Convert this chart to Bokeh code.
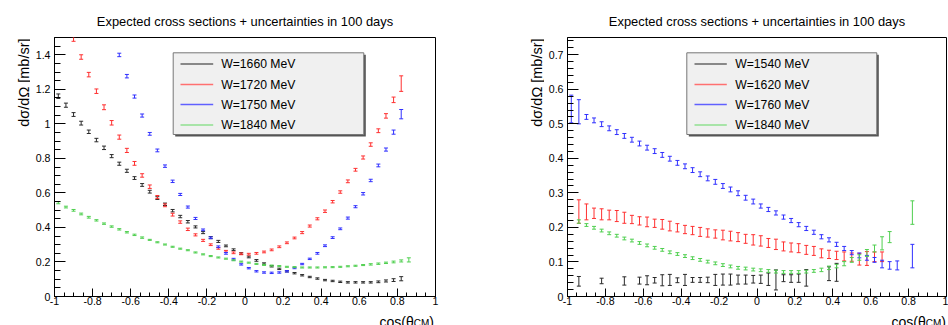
import numpy as np
from bokeh.plotting import figure
from bokeh.models import Label, FixedTicker, CustomJSTickFormatter, ColumnDataSource
from bokeh.layouts import row, column
from bokeh.embed import file_html
from bokeh.resources import INLINE

# ---------------- data ----------------
title_text = "Expected cross sections + uncertainties in 100 days"
y_title = "dσ/dΩ [mb/sr]"

x_tick_values = [-1, -0.8, -0.6, -0.4, -0.2, 0, 0.2, 0.4, 0.6, 0.8, 1]
x_tick_labels = ["-1", "-0.8", "-0.6", "-0.4", "-0.2", "0", "0.2", "0.4", "0.6", "0.8", "1"]
left_y_ticks = [0, 0.2, 0.4, 0.6, 0.8, 1.0, 1.2, 1.4]
left_y_labels = ["0", "0.2", "0.4", "0.6", "0.8", "1", "1.2", "1.4"]
right_y_ticks = [0, 0.1, 0.2, 0.3, 0.4, 0.5, 0.6, 0.7]
right_y_labels = ["0", "0.1", "0.2", "0.3", "0.4", "0.5", "0.6", "0.7"]

left_names = ["W=1660 MeV", "W=1720 MeV", "W=1750 MeV", "W=1840 MeV"]
right_names = ["W=1540 MeV", "W=1620 MeV", "W=1760 MeV", "W=1840 MeV"]

# left panel
L1660_x = [-0.98, -0.94, -0.90, -0.86, -0.82, -0.78, -0.74, -0.70, -0.66, -0.62, -0.58, -0.54,
           -0.50, -0.46, -0.42, -0.38, -0.34, -0.30, -0.26, -0.22, -0.18, -0.14, -0.10, -0.06,
           -0.02, 0.02, 0.06, 0.10, 0.14, 0.18, 0.22, 0.26, 0.30, 0.34, 0.38, 0.42, 0.46, 0.50,
           0.54, 0.58, 0.62, 0.66, 0.70, 0.74, 0.78, 0.82]
L1660_y = [1.160, 1.108, 1.054, 1.004, 0.954, 0.906, 0.861, 0.813, 0.769, 0.728, 0.686, 0.646,
           0.607, 0.570, 0.534, 0.497, 0.463, 0.433, 0.403, 0.370, 0.341, 0.319, 0.293, 0.271,
           0.249, 0.229, 0.209, 0.191, 0.175, 0.160, 0.146, 0.135, 0.123, 0.113, 0.104, 0.095,
           0.090, 0.085, 0.082, 0.082, 0.082, 0.082, 0.085, 0.090, 0.095, 0.103]
L1660_e = [0.013, 0.012, 0.011, 0.011, 0.010, 0.010, 0.010, 0.009, 0.009, 0.009, 0.008, 0.008,
           0.008, 0.008, 0.007, 0.007, 0.007, 0.007, 0.006, 0.006, 0.006, 0.006, 0.005, 0.005,
           0.005, 0.005, 0.005, 0.004, 0.004, 0.004, 0.004, 0.004, 0.004, 0.004, 0.004, 0.004,
           0.004, 0.004, 0.004, 0.004, 0.004, 0.004, 0.005, 0.006, 0.008, 0.012]

L1720_x = [-0.90, -0.86, -0.82, -0.78, -0.74, -0.70, -0.66, -0.62, -0.58, -0.54, -0.50, -0.46,
           -0.42, -0.38, -0.34, -0.30, -0.26, -0.22, -0.18, -0.14, -0.10, -0.06, -0.02, 0.02,
           0.06, 0.10, 0.14, 0.18, 0.22, 0.26, 0.30, 0.34, 0.38, 0.42, 0.46, 0.50, 0.54, 0.58,
           0.62, 0.66, 0.70, 0.74, 0.78, 0.82]
L1720_y = [1.491, 1.387, 1.285, 1.189, 1.096, 1.006, 0.923, 0.846, 0.771, 0.701, 0.636, 0.576,
           0.528, 0.474, 0.431, 0.389, 0.357, 0.325, 0.300, 0.279, 0.262, 0.253, 0.247, 0.245,
           0.250, 0.258, 0.270, 0.288, 0.311, 0.339, 0.370, 0.408, 0.450, 0.494, 0.549, 0.605,
           0.667, 0.734, 0.805, 0.880, 0.960, 1.046, 1.139, 1.233]
L1720_e = [0.013, 0.013, 0.013, 0.013, 0.014, 0.013, 0.012, 0.012, 0.011, 0.010, 0.010, 0.009,
           0.008, 0.008, 0.007, 0.007, 0.006, 0.006, 0.005, 0.005, 0.005, 0.005, 0.005, 0.005,
           0.005, 0.005, 0.005, 0.005, 0.005, 0.005, 0.006, 0.006, 0.006, 0.007, 0.007, 0.007,
           0.008, 0.008, 0.009, 0.010, 0.011, 0.013, 0.016, 0.045]

L1750_x = [-0.66, -0.62, -0.58, -0.54, -0.50, -0.46, -0.42, -0.38, -0.34, -0.30, -0.26, -0.22,
           -0.18, -0.14, -0.10, -0.06, -0.02, 0.02, 0.06, 0.10, 0.14, 0.18, 0.22, 0.26, 0.30,
           0.34, 0.38, 0.42, 0.46, 0.50, 0.54, 0.58, 0.62, 0.66, 0.70, 0.74, 0.78, 0.82]
L1750_y = [1.399, 1.276, 1.158, 1.048, 0.942, 0.846, 0.755, 0.667, 0.591, 0.518, 0.452, 0.386,
           0.340, 0.288, 0.250, 0.216, 0.186, 0.164, 0.146, 0.139, 0.137, 0.139, 0.146, 0.165,
           0.188, 0.218, 0.250, 0.294, 0.341, 0.392, 0.454, 0.520, 0.595, 0.672, 0.759, 0.851,
           0.952, 1.056]
L1750_e = [0.010, 0.010, 0.009, 0.009, 0.008, 0.008, 0.007, 0.007, 0.006, 0.006, 0.006, 0.005,
           0.005, 0.005, 0.005, 0.005, 0.004, 0.004, 0.004, 0.004, 0.004, 0.004, 0.004, 0.004,
           0.004, 0.004, 0.005, 0.005, 0.005, 0.005, 0.006, 0.006, 0.007, 0.007, 0.008, 0.009,
           0.012, 0.027]

L1840_x = [-0.98, -0.94, -0.90, -0.86, -0.82, -0.78, -0.74, -0.70, -0.66, -0.62, -0.58, -0.54,
           -0.50, -0.46, -0.42, -0.38, -0.34, -0.30, -0.26, -0.22, -0.18, -0.14, -0.10, -0.06,
           -0.02, 0.02, 0.06, 0.10, 0.14, 0.18, 0.22, 0.26, 0.30, 0.34, 0.38, 0.42, 0.46, 0.50,
           0.54, 0.58, 0.62, 0.66, 0.70, 0.74, 0.78, 0.82, 0.86]
L1840_y = [0.543, 0.518, 0.499, 0.478, 0.459, 0.441, 0.422, 0.405, 0.389, 0.372, 0.357, 0.341,
           0.328, 0.314, 0.301, 0.288, 0.277, 0.268, 0.255, 0.244, 0.234, 0.226, 0.219, 0.210,
           0.202, 0.196, 0.189, 0.183, 0.179, 0.176, 0.172, 0.170, 0.168, 0.168, 0.168, 0.169,
           0.170, 0.172, 0.175, 0.178, 0.182, 0.186, 0.190, 0.195, 0.200, 0.206, 0.212]
L1840_e = [0.006, 0.005, 0.005, 0.005, 0.005, 0.004, 0.004, 0.004, 0.004, 0.004, 0.004, 0.004,
           0.003, 0.003, 0.003, 0.003, 0.003, 0.003, 0.003, 0.003, 0.003, 0.003, 0.003, 0.003,
           0.003, 0.003, 0.003, 0.003, 0.003, 0.003, 0.003, 0.003, 0.003, 0.003, 0.003, 0.003,
           0.003, 0.003, 0.003, 0.003, 0.003, 0.004, 0.004, 0.004, 0.005, 0.006, 0.012]

# right panel
R1540_x = [-0.94, -0.82, -0.70, -0.62, -0.58, -0.54, -0.50, -0.46, -0.42, -0.38, -0.34, -0.30,
           -0.26, -0.22, -0.18, -0.14, -0.10, -0.06, -0.02, 0.02, 0.06, 0.10, 0.14, 0.18, 0.22,
           0.26, 0.38, 0.42]
R1540_y = [0.044, 0.045, 0.045, 0.046, 0.047, 0.047, 0.047, 0.048, 0.047, 0.048, 0.048, 0.048,
           0.048, 0.048, 0.049, 0.049, 0.049, 0.049, 0.050, 0.050, 0.050, 0.048, 0.053, 0.052,
           0.053, 0.054, 0.066, 0.070]
R1540_e = [0.014, 0.008, 0.012, 0.010, 0.013, 0.008, 0.016, 0.016, 0.007, 0.016, 0.007, 0.007,
           0.008, 0.016, 0.016, 0.016, 0.013, 0.013, 0.011, 0.012, 0.018, 0.029, 0.010, 0.011,
           0.012, 0.024, 0.020, 0.026]

R1620_x = [-0.94, -0.90, -0.86, -0.82, -0.78, -0.74, -0.70, -0.66, -0.62, -0.58, -0.54, -0.50,
           -0.46, -0.42, -0.38, -0.34, -0.30, -0.26, -0.22, -0.18, -0.14, -0.10, -0.06, -0.02,
           0.02, 0.06, 0.10, 0.14, 0.18, 0.22, 0.26, 0.30, 0.34, 0.38, 0.42, 0.46, 0.50, 0.54,
           0.58, 0.62, 0.66]
R1620_y = [0.246, 0.245, 0.241, 0.238, 0.236, 0.233, 0.228, 0.223, 0.219, 0.216, 0.212, 0.209,
           0.204, 0.199, 0.194, 0.191, 0.187, 0.184, 0.181, 0.178, 0.175, 0.172, 0.167, 0.164,
           0.161, 0.155, 0.151, 0.145, 0.142, 0.140, 0.135, 0.132, 0.125, 0.122, 0.119, 0.116,
           0.114, 0.108, 0.110, 0.115, 0.115]
R1620_e = [0.034, 0.023, 0.015, 0.016, 0.014, 0.016, 0.016, 0.012, 0.012, 0.014, 0.012, 0.014,
           0.014, 0.012, 0.012, 0.012, 0.013, 0.012, 0.012, 0.014, 0.014, 0.013, 0.013, 0.015,
           0.015, 0.013, 0.015, 0.013, 0.013, 0.013, 0.013, 0.013, 0.013, 0.012, 0.012, 0.013,
           0.012, 0.017, 0.020, 0.014, 0.014]

R1760_x = [-0.98, -0.94, -0.90, -0.86, -0.82, -0.78, -0.74, -0.70, -0.66, -0.62, -0.58, -0.54,
           -0.50, -0.46, -0.42, -0.38, -0.34, -0.30, -0.26, -0.22, -0.18, -0.14, -0.10, -0.06,
           -0.02, 0.02, 0.06, 0.10, 0.14, 0.18, 0.22, 0.26, 0.30, 0.34, 0.38, 0.42, 0.46, 0.50,
           0.54, 0.58, 0.62, 0.66, 0.70, 0.74, 0.82]
R1760_y = [0.543, 0.535, 0.520, 0.510, 0.499, 0.487, 0.476, 0.465, 0.454, 0.443, 0.431, 0.421,
           0.410, 0.399, 0.387, 0.377, 0.366, 0.354, 0.342, 0.332, 0.320, 0.310, 0.299, 0.286,
           0.275, 0.262, 0.252, 0.242, 0.230, 0.220, 0.208, 0.197, 0.186, 0.173, 0.164, 0.151,
           0.139, 0.127, 0.119, 0.112, 0.106, 0.094, 0.090, 0.090, 0.117]
R1760_e = [0.040, 0.035, 0.007, 0.007, 0.007, 0.007, 0.007, 0.007, 0.007, 0.007, 0.007, 0.007,
           0.007, 0.007, 0.007, 0.007, 0.007, 0.007, 0.007, 0.007, 0.007, 0.007, 0.007, 0.007,
           0.007, 0.006, 0.006, 0.006, 0.006, 0.006, 0.006, 0.006, 0.006, 0.006, 0.006, 0.006,
           0.006, 0.006, 0.007, 0.007, 0.007, 0.011, 0.011, 0.013, 0.034]

R1840_x = [-0.94, -0.90, -0.86, -0.82, -0.78, -0.74, -0.70, -0.66, -0.62, -0.58, -0.54, -0.50,
           -0.46, -0.42, -0.38, -0.34, -0.30, -0.26, -0.22, -0.18, -0.14, -0.10, -0.06, -0.02,
           0.02, 0.06, 0.10, 0.14, 0.18, 0.22, 0.26, 0.30, 0.34, 0.38, 0.42, 0.46, 0.50, 0.54,
           0.58, 0.62, 0.66, 0.70, 0.82]
R1840_y = [0.217, 0.207, 0.199, 0.191, 0.183, 0.176, 0.168, 0.162, 0.155, 0.148, 0.141, 0.135,
           0.128, 0.123, 0.117, 0.111, 0.106, 0.101, 0.096, 0.091, 0.087, 0.083, 0.081, 0.078,
           0.076, 0.074, 0.072, 0.071, 0.071, 0.071, 0.072, 0.074, 0.077, 0.083, 0.088, 0.095,
           0.106, 0.113, 0.126, 0.139, 0.154, 0.172, 0.243]
R1840_e = [0.005, 0.004, 0.004, 0.004, 0.004, 0.004, 0.004, 0.004, 0.004, 0.004, 0.004, 0.004,
           0.004, 0.004, 0.004, 0.004, 0.004, 0.004, 0.004, 0.004, 0.004, 0.004, 0.004, 0.004,
           0.004, 0.004, 0.004, 0.004, 0.004, 0.004, 0.004, 0.004, 0.005, 0.005, 0.005, 0.006,
           0.007, 0.008, 0.010, 0.010, 0.019, 0.016, 0.034]

# ---------------- style / layout ----------------
FONT = "Liberation Sans"
COLORS = ["#2a2a2a", "#ff3030", "#3030ff", "#4fcf4f"]
LEG_COLORS = ["#666666", "#ff7070", "#6060ff", "#90e090"]

PANEL_W = 474          # each half of the window
TOP_H = 36             # strip holding the title
FRAME_TOP = 37         # absolute y of frame top
FRAME_H = 259
BOT_BORDER = 15        # room for x tick labels (what the axis needs)
MID_H = 1 + FRAME_H + BOT_BORDER
BOT_H = 325 - TOP_H - MID_H


def tick_formatter(tvals, tlabels):
    return CustomJSTickFormatter(args=dict(tv=tvals, tl=tlabels), code="""
        let best = 0, bd = Infinity;
        for (let i = 0; i < tv.length; i++) {
            const d = Math.abs(tv[i] - tick);
            if (d < bd) { bd = d; best = i; }
        }
        return tl[best];
    """)


def strip(w, h):
    s = figure(width=w, height=h, x_range=(0, w), y_range=(0, h), x_axis_type=None,
               y_axis_type=None, output_backend="svg", toolbar_location=None, min_border=0)
    s.outline_line_color = None
    s.background_fill_color = "white"
    s.border_fill_color = "white"
    return s


def make_panel(x0, ystrip_w, frame_left, frame_w, ymax, y_ticks, y_labels, y_minor, series,
               names, leg_px, line_px, xtitle_end):
    """x0: absolute x of the panel's left edge."""
    main_w = PANEL_W - ystrip_w
    b_left = frame_left - (x0 + ystrip_w)
    b_right = main_w - b_left - frame_w
    p = figure(width=main_w, height=MID_H, x_range=(-1, 1), y_range=(0, ymax),
               output_backend="svg", toolbar_location=None,
               min_border_left=b_left, min_border_right=b_right,
               min_border_top=1, min_border_bottom=BOT_BORDER)
    p.xgrid.visible = False
    p.ygrid.visible = False
    p.outline_line_color = "black"
    p.outline_line_width = 1
    p.outline_line_alpha = 1
    p.background_fill_color = "white"
    p.border_fill_color = "white"

    def fx(px):
        return (px - frame_left) / frame_w * 2 - 1

    def fy(py):
        return (FRAME_TOP + FRAME_H - py) / FRAME_H * ymax

    xa = p.xaxis[0]
    xa.ticker = FixedTicker(ticks=x_tick_values,
                            minor_ticks=list(np.round(np.arange(-1, 1.0001, 0.05), 4)))
    xa.formatter = tick_formatter(x_tick_values, x_tick_labels)
    ya = p.yaxis[0]
    ya.ticker = FixedTicker(ticks=y_ticks,
                            minor_ticks=list(np.round(np.arange(0, ymax + 1e-6, y_minor), 4)))
    ya.formatter = tick_formatter(y_ticks, y_labels)
    for ax in (xa, ya):
        ax.major_tick_out = 0
        ax.minor_tick_out = 0
        ax.axis_line_color = "black"
        ax.major_tick_line_color = "black"
        ax.minor_tick_line_color = "black"
        ax.major_label_text_font = FONT
        ax.major_label_text_font_size = "10.6px"
        ax.major_label_text_color = "black"
    xa.major_tick_in = 8
    xa.minor_tick_in = 4
    xa.major_label_standoff = 0
    ya.major_tick_in = 11
    ya.minor_tick_in = 6
    ya.major_label_standoff = 4

    for (xs, ys, es), col in zip(series, COLORS):
        lo = [y - e for y, e in zip(ys, es)]
        hi = [y + e for y, e in zip(ys, es)]
        src = ColumnDataSource(dict(x=xs, y=ys, lo=lo, hi=hi))
        p.segment(x0="x", y0="lo", x1="x", y1="hi", source=src, line_color=col, line_width=1)
        p.scatter(x="x", y="hi", source=src, marker="dash", size=4, line_color=col, line_width=1)
        p.scatter(x="x", y="lo", source=src, marker="dash", size=4, line_color=col, line_width=1)

    # legend (shadow + box + entries)
    bl, br, bt, bb = leg_px
    p.quad(left=[fx(bl + 2)], right=[fx(br + 2)], top=[fy(bt + 2)], bottom=[fy(bb + 2)],
           fill_color="#555555", line_color=None)
    p.quad(left=[fx(bl)], right=[fx(br)], top=[fy(bt)], bottom=[fy(bb)],
           fill_color="#f0f0f0", line_color="#777777", line_width=1)
    rows_py = [63.5, 84.0, 104.0, 124.5]
    ls0, ls1, tx0 = line_px
    for name, col, py in zip(names, LEG_COLORS, rows_py):
        p.segment(x0=[fx(ls0)], y0=[fy(py)], x1=[fx(ls1)], y1=[fy(py)], line_color=col,
                  line_width=1.3)
        p.add_layout(Label(x=fx(tx0), y=fy(py), text=name, text_font=FONT,
                           text_font_size="12.2px", text_align="left",
                           text_baseline="middle", text_color="black"))

    # title strip
    top = strip(PANEL_W, TOP_H)
    top.add_layout(Label(x=frame_left + frame_w / 2 - x0, y=TOP_H - 20.7, text=title_text,
                         text_font=FONT, text_font_size="12.9px", text_align="center",
                         text_baseline="alphabetic", text_color="black"))

    # y-title strip (text ends at the top of the axis)
    ys_ = strip(ystrip_w, MID_H)
    ys_.add_layout(Label(x=frame_left - 31 - x0, y=MID_H - 1, text=y_title, text_font=FONT,
                         text_font_size="14.5px", text_align="right",
                         text_baseline="alphabetic", angle=np.pi / 2, text_color="black"))

    # x-title strip: cos(theta_CM), right-aligned under the frame
    bot = strip(PANEL_W, BOT_H)
    bx = xtitle_end - x0
    by = 325 - 321.5          # main baseline at absolute y = 321.5
    bot.add_layout(Label(x=bx, y=by, text=")", text_font=FONT, text_font_size="14px",
                         text_align="right", text_baseline="alphabetic", text_color="black"))
    bot.add_layout(Label(x=bx - 4.7, y=by - 1.9, text="CM", text_font=FONT,
                         text_font_size="10px", text_align="right",
                         text_baseline="alphabetic", text_color="black"))
    bot.add_layout(Label(x=bx - 20.3, y=by, text="cos(θ", text_font=FONT,
                         text_font_size="14px", text_align="right",
                         text_baseline="alphabetic", text_color="black"))
    return top, row(ys_, p, spacing=0), bot


left_series = [(L1660_x, L1660_y, L1660_e), (L1720_x, L1720_y, L1720_e),
               (L1750_x, L1750_y, L1750_e), (L1840_x, L1840_y, L1840_e)]
right_series = [(R1540_x, R1540_y, R1540_e), (R1620_x, R1620_y, R1620_e),
                (R1760_x, R1760_y, R1760_e), (R1840_x, R1840_y, R1840_e)]

tL, mL, bL = make_panel(0, 30, 54, 381, 1.5, left_y_ticks, left_y_labels, 0.05, left_series,
                        left_names, (172.7, 363.3, 52.3, 134.0), (180.0, 212.7, 220.7), 433.5)
tR, mR, bR = make_panel(474, 70, 567, 379, 0.75, right_y_ticks, right_y_labels, 0.02,
                        right_series, right_names, (686.3, 876.3, 52.3, 134.0),
                        (694.0, 726.3, 734.7), 945.5)

layout = column(row(tL, tR, spacing=0), row(mL, mR, spacing=0), row(bL, bR, spacing=0),
                spacing=0)
open("out.html", "w").write(file_html(layout, INLINE))
